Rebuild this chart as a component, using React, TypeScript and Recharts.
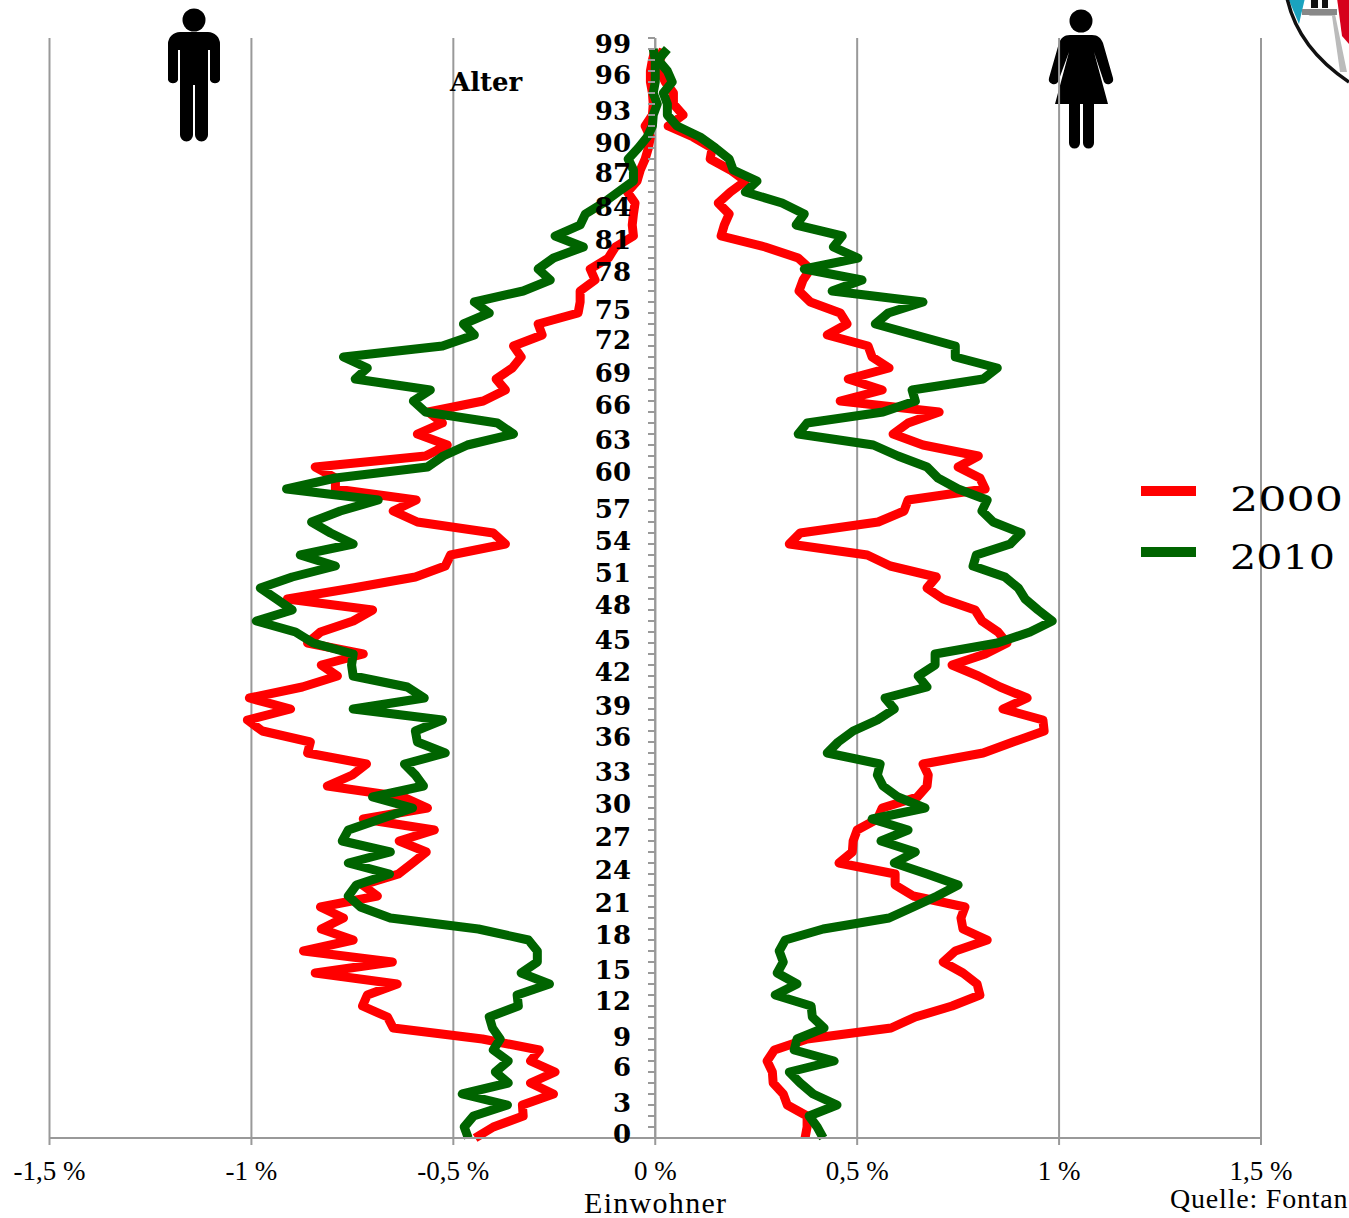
import { LineChart, Line, XAxis, YAxis, CartesianGrid, Legend, ReferenceLine } from "recharts";

// share of inhabitants per age in %, index = age
const ages = Array.from({ length: 100 }, (_, i) => i);

const male2000 = [
  -0.446, -0.401, -0.327, -0.329, -0.252, -0.309, -0.248, -0.309, -0.287, -0.428,
  -0.649, -0.663, -0.725, -0.713, -0.639, -0.842, -0.651, -0.871, -0.748, -0.827,
  -0.772, -0.829, -0.688, -0.725, -0.636, -0.601, -0.567, -0.634, -0.547, -0.723,
  -0.564, -0.624, -0.812, -0.75, -0.715, -0.861, -0.854, -0.973, -1.01, -0.903,
  -1.005, -0.874, -0.787, -0.827, -0.723, -0.861, -0.829, -0.748, -0.7, -0.911,
  -0.748, -0.594, -0.52, -0.507, -0.371, -0.401, -0.589, -0.649, -0.592, -0.792,
  -0.792, -0.842, -0.569, -0.515, -0.589, -0.527, -0.562, -0.426, -0.371, -0.394,
  -0.354, -0.332, -0.351, -0.28, -0.29, -0.191, -0.186, -0.186, -0.149, -0.161,
  -0.116, -0.099, -0.054, -0.057, -0.054, -0.05, -0.069, -0.045, -0.037, -0.025,
  -0.017, -0.012, -0.025, -0.007, -0.005, -0.007, -0.012, -0.012, -0.007, 0,
];

const male2010 = [
  -0.463, -0.473, -0.45, -0.366, -0.478, -0.364, -0.396, -0.364, -0.401, -0.384,
  -0.403, -0.411, -0.339, -0.342, -0.262, -0.332, -0.292, -0.292, -0.314, -0.438,
  -0.656, -0.73, -0.76, -0.74, -0.658, -0.76, -0.656, -0.775, -0.76, -0.681,
  -0.601, -0.7, -0.574, -0.594, -0.621, -0.52, -0.589, -0.594, -0.527, -0.748,
  -0.572, -0.614, -0.748, -0.752, -0.748, -0.847, -0.891, -0.988, -0.899, -0.938,
  -0.978, -0.899, -0.792, -0.879, -0.748, -0.804, -0.851, -0.78, -0.686, -0.913,
  -0.792, -0.564, -0.525, -0.465, -0.351, -0.391, -0.569, -0.599, -0.557, -0.743,
  -0.713, -0.772, -0.527, -0.448, -0.475, -0.411, -0.448, -0.327, -0.26, -0.29,
  -0.252, -0.178, -0.248, -0.186, -0.173, -0.129, -0.092, -0.054, -0.054, -0.067,
  -0.042, -0.02, -0.007, -0.005, 0.005, -0.005, 0, 0, 0, -0.005,
];

const female2000 = [
  0.371, 0.376, 0.376, 0.327, 0.317, 0.292, 0.29, 0.277, 0.295, 0.376,
  0.584, 0.644, 0.735, 0.804, 0.797, 0.762, 0.713, 0.743, 0.822, 0.762,
  0.757, 0.767, 0.639, 0.594, 0.594, 0.455, 0.488, 0.49, 0.5, 0.55,
  0.562, 0.649, 0.673, 0.676, 0.663, 0.812, 0.886, 0.963, 0.96, 0.861,
  0.921, 0.854, 0.8, 0.735, 0.817, 0.871, 0.849, 0.809, 0.792, 0.713,
  0.673, 0.696, 0.582, 0.525, 0.332, 0.359, 0.552, 0.616, 0.626, 0.817,
  0.804, 0.75, 0.8, 0.663, 0.589, 0.626, 0.703, 0.458, 0.562, 0.478,
  0.579, 0.537, 0.527, 0.426, 0.475, 0.458, 0.384, 0.356, 0.366, 0.384,
  0.354, 0.272, 0.163, 0.171, 0.183, 0.156, 0.186, 0.223, 0.186, 0.136,
  0.141, 0.094, 0.032, 0.069, 0.045, 0.045, 0.025, 0.012, 0.012, 0.02,
];

const female2010 = [
  0.416, 0.401, 0.381, 0.45, 0.391, 0.359, 0.332, 0.443, 0.344, 0.351,
  0.418, 0.389, 0.386, 0.297, 0.351, 0.302, 0.317, 0.307, 0.322, 0.416,
  0.579, 0.639, 0.698, 0.75, 0.673, 0.592, 0.644, 0.559, 0.626, 0.537,
  0.668, 0.601, 0.564, 0.55, 0.557, 0.426, 0.453, 0.49, 0.55, 0.592,
  0.569, 0.673, 0.651, 0.693, 0.693, 0.847, 0.928, 0.983, 0.948, 0.916,
  0.899, 0.866, 0.787, 0.795, 0.879, 0.906, 0.837, 0.809, 0.822, 0.75,
  0.7, 0.673, 0.601, 0.54, 0.354, 0.376, 0.564, 0.644, 0.636, 0.812,
  0.847, 0.743, 0.743, 0.644, 0.545, 0.577, 0.663, 0.438, 0.512, 0.369,
  0.502, 0.441, 0.463, 0.349, 0.369, 0.314, 0.223, 0.252, 0.193, 0.183,
  0.149, 0.111, 0.054, 0.03, 0.03, 0.02, 0.042, 0.03, 0.007, 0.03,
];

const xTicks = [-1.5, -1, -0.5, 0, 0.5, 1, 1.5];
const ageTicks = Array.from({ length: 101 }, (_, i) => i);

const chartData = ages.map((age, i) => ({
  age,
  m2000: male2000[i],
  f2000: female2000[i],
  m2010: male2010[i],
  f2010: female2010[i],
}));

const RED = "#ff0000";
const GREEN = "#006400";
const GRID = "#999999";
const SERIF = "'Liberation Serif', serif";
const HEAVY = "'DejaVu Serif', serif";

// the age labels sit a little unevenly beside their ticks in the original
const labelNudge: Record<number, number> = {
  0: -4, 3: -2, 6: -5, 9: -2, 12: -5, 15: -3, 18: -5, 21: -4, 24: -4, 27: -4, 30: -4, 33: -3,
  36: -5, 39: -3, 42: -4, 45: -3, 48: -5, 51: -4, 54: -3, 57: -2, 60: -6, 63: -5, 66: -7,
  69: -6, 72: -6, 75: -3, 78: -8, 81: -7, 84: -7, 87: -8, 90: -5, 93: -4, 96: -7, 99: -5,
};

const AgeTick = ({ y, payload }: any) => {
  const age = payload.value;
  return (
    <g>
      <line x1={648} x2={655} y1={y} y2={y} stroke={GRID} strokeWidth={2} />
      {age % 3 === 0 && age < 100 && (
        <text
          x={631}
          y={y + labelNudge[age]}
          dy="0.36em"
          textAnchor="end"
          fontFamily={HEAVY}
          fontWeight="bold"
          fontSize={26}
          fill="#000"
        >
          {age}
        </text>
      )}
    </g>
  );
};

const YearLegend = () => (
  <svg width={208} height={110} style={{ display: "block" }}>
    <rect x={0} y={6} width={55} height={10} fill={RED} />
    <rect x={0} y={67} width={55} height={10} fill={GREEN} />
    <text x={89} y={31} fontFamily={HEAVY} fontSize={34} textLength={113} lengthAdjust="spacingAndGlyphs">
      2000
    </text>
    <text x={89} y={89} fontFamily={HEAVY} fontSize={34} textLength={105} lengthAdjust="spacingAndGlyphs">
      2010
    </text>
  </svg>
);

const ManIcon = () => (
  <svg width={70} height={150} viewBox="160 0 70 150" style={{ position: "absolute", left: 160, top: 0 }}>
    <circle cx={194} cy={20} r={11.5} fill="#000" />
    <path d="M180 32h28a12 12 0 0 1 12 12v36a5.5 5.5 0 0 1-10 0V50h-2v30h0v55a6.5 6.5 0 0 1-13 0V85h-2v50a6.5 6.5 0 0 1-13 0V50h-2v30a5.5 5.5 0 0 1-10 0V44a12 12 0 0 1 12-12z" fill="#000" />
  </svg>
);

const WomanIcon = () => (
  <svg width={80} height={160} viewBox="1040 0 80 160" style={{ position: "absolute", left: 1040, top: 0 }}>
    <circle cx={1081} cy={21} r={11.5} fill="#000" />
    <path d="M1070 35H1092C1098 35 1101 38 1103 43L1113 78a5 5 0 0 1-9 4L1094 52L1108 104H1094V143a5.5 5.5 0 0 1-11 0V104H1080V143a5.5 5.5 0 0 1-11 0V104H1055L1069 52L1058 82a5 5 0 0 1-9-4L1059 43C1061 38 1064 35 1070 35z" fill="#000" />
  </svg>
);

const CoatOfArms = () => (
  <svg width={70} height={90} viewBox="1279 0 70 90" style={{ position: "absolute", left: 1279, top: 0 }}>
    <path d="M1287 -2Q1298 48 1349 82V-2z" fill="#fff" />
    <path d="M1288 -2L1299 24L1305 -2z" fill="#1aa3bf" />
    <path d="M1307 14H1335L1347 72H1340L1332 16H1310z" fill="#bbb" />
    <rect x={1302} y={9} width={35} height={6} fill="#888" />
    <rect x={1311} y={0} width={7} height={8} fill="#111" />
    <rect x={1322} y={0} width={6} height={8} fill="#111" />
    <path d="M1337 -2H1349V44L1342 36z" fill="#d6001c" />
    <path d="M1287 -2Q1298 48 1349 82" fill="none" stroke="#111" strokeWidth={3.5} />
  </svg>
);

export default function App() {
  return (
    <div style={{ position: "absolute", left: 0, top: 0, width: 1349, height: 1218, overflow: "hidden", background: "#fff" }}>
      <ManIcon />
      <WomanIcon />
      <CoatOfArms />
      <div style={{ position: "absolute", left: 0, top: 0 }}>
        <LineChart
          width={1349}
          height={1218}
          data={chartData}
          layout="vertical"
          margin={{ top: 38, right: 88, bottom: 0, left: 48.5 }}
        >
          <CartesianGrid horizontal={false} vertical stroke={GRID} strokeWidth={2} />
          <XAxis
            type="number"
            domain={[-1.5, 1.5]}
            ticks={xTicks}
            interval={0}
            stroke={GRID}
            strokeWidth={2}
            tickSize={7}
            height={80}
            tick={{ fill: "#000", fontFamily: SERIF, fontSize: 27, dy: 14 }}
            tickFormatter={(v: number) => `${String(v).replace(".", ",")} %`}
          />
          <YAxis
            type="number"
            dataKey="age"
            domain={[0, 100]}
            ticks={ageTicks}
            interval={0}
            reversed
            width={1}
            axisLine={false}
            tickLine={false}
            tick={<AgeTick />}
          />
          <ReferenceLine x={0} stroke={GRID} strokeWidth={2} />
          <Legend
            layout="vertical"
            verticalAlign="middle"
            align="center"
            content={<YearLegend />}
            wrapperStyle={{ position: "absolute", left: 1141, top: 480, width: 208 }}
          />
          <Line dataKey="m2000" stroke={RED} strokeWidth={9} dot={false} strokeLinejoin="round" isAnimationActive={false} />
          <Line dataKey="f2000" stroke={RED} strokeWidth={9} dot={false} strokeLinejoin="round" isAnimationActive={false} />
          <Line dataKey="m2010" stroke={GREEN} strokeWidth={9} dot={false} strokeLinejoin="round" isAnimationActive={false} />
          <Line dataKey="f2010" stroke={GREEN} strokeWidth={9} dot={false} strokeLinejoin="round" isAnimationActive={false} />
        </LineChart>
      </div>
      <div style={{ position: "absolute", left: 450, top: 65, fontFamily: HEAVY, fontWeight: "bold", fontSize: 26, lineHeight: "34px" }}>Alter</div>
      <div style={{ position: "absolute", left: 584, top: 1188, fontFamily: SERIF, fontSize: 30, lineHeight: "30px", letterSpacing: 1.3 }}>Einwohner</div>
      <div style={{ position: "absolute", left: 1170, top: 1182, fontFamily: SERIF, fontSize: 28, lineHeight: "34px", whiteSpace: "nowrap", letterSpacing: 0.8 }}>Quelle: Fontan</div>
    </div>
  );
}
